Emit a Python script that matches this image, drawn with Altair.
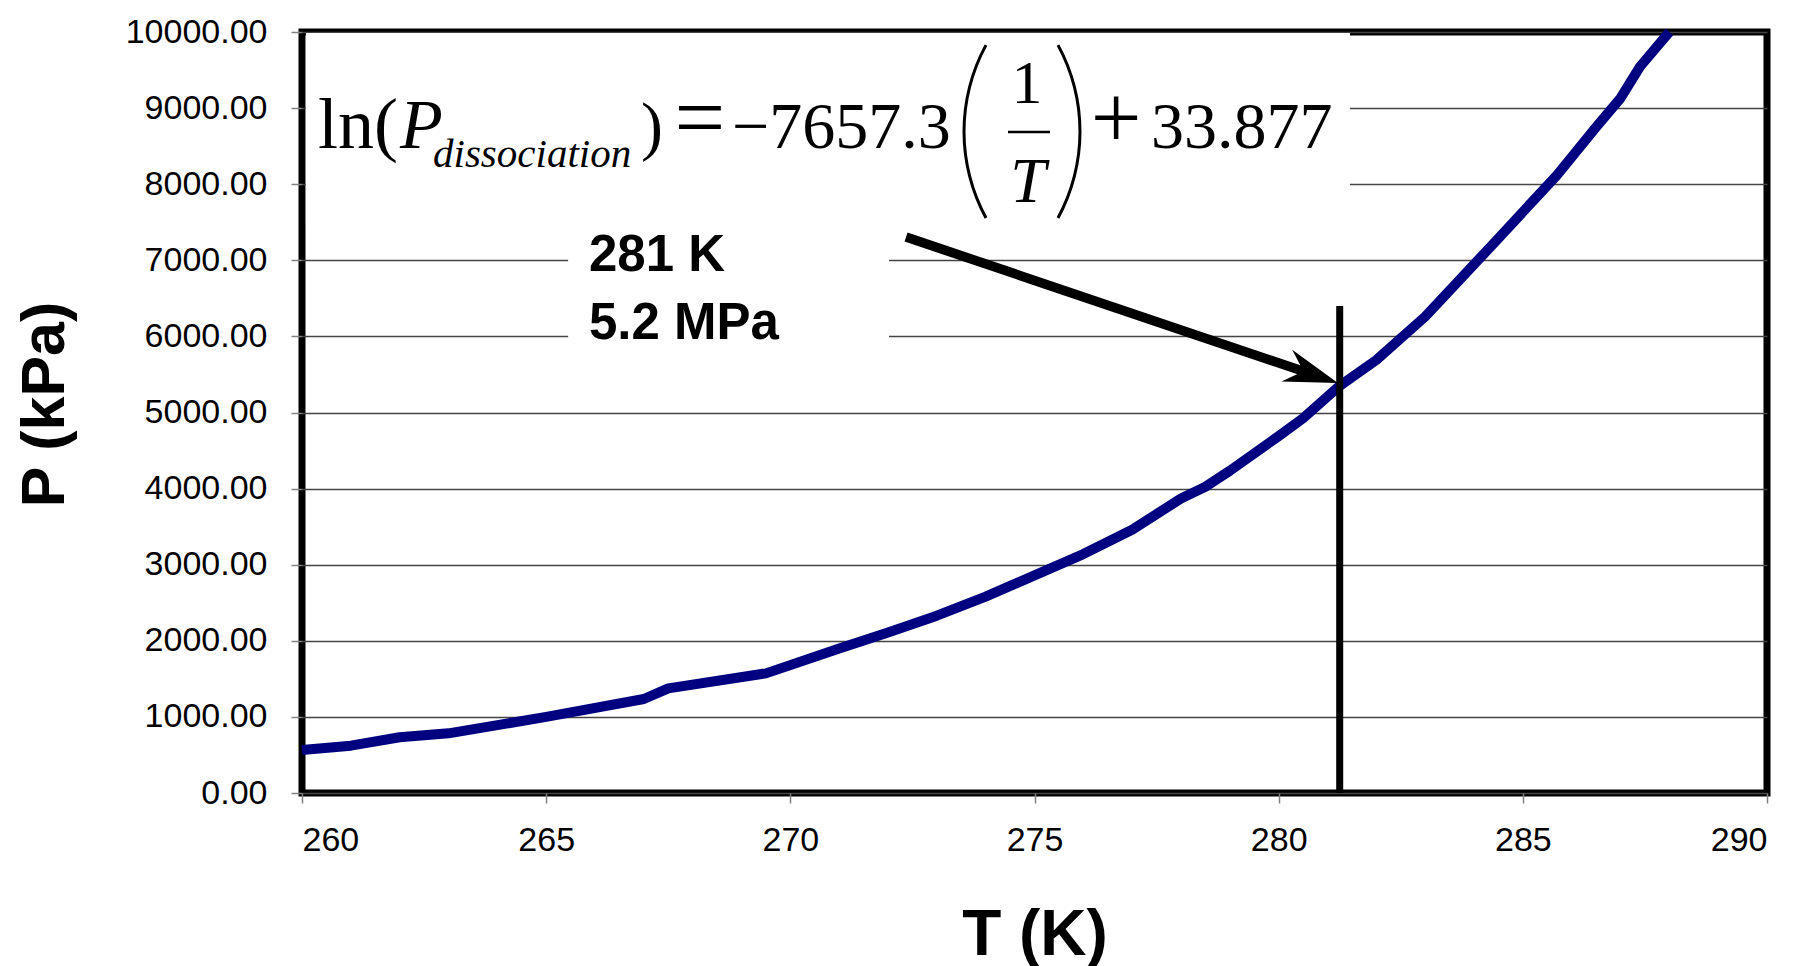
import altair as alt
import pandas as pd

# ---- data ----
T_vals = [260, 261, 262, 263, 265, 267, 267.5, 269.5, 271, 272, 273, 274, 275, 276, 277,
          278, 278.5, 279, 280, 280.5, 281.25, 282, 283, 284.4, 285.7, 286.5, 287, 287.4, 288]
P_vals = [565, 622, 732, 784, 1000, 1235, 1375, 1572, 1900, 2110, 2330, 2580, 2860, 3140, 3460,
          3870, 4025, 4235, 4690, 4925, 5350, 5690, 6260, 7220, 8120, 8750, 9130, 9545, 10000]

x_ticks = [260, 265, 270, 275, 280, 285, 290]
y_ticks = [0, 1000, 2000, 3000, 4000, 5000, 6000, 7000, 8000, 9000, 10000]

x_title = "T (K)"
y_title = "P (kPa)"

# annotation point (hydrate dissociation at 281 K)
mark_T = 281.25
mark_P_top = 6400
label_lines = ["281 K", "5.2 MPa"]
label_T = 265.877
label_P = [6859, 5966]

# arrow (data coordinates)
arrow_start = (272.37, 7306)
arrow_end = (280.537, 5535)
arrow_head = (280.691, 5502)
arrow_angle = 18.7

# white boxes behind the annotations (data coordinates)
box_T1 = [260.08, 265.45]
box_T2 = [281.46, 272.02]
box_P1 = [7464, 5690]
box_P2 = [9987, 7464]

# equation pieces: text, T, P, size, style, align
eq_text = ["ln(", "P", "dissociation", ")", "=", "\u22127657.3", "1", "T", "+", "33.877"]
eq_T = [260.328, 262.007, 262.683, 266.942, 268.15, 268.806, 274.846, 274.867, 276.669, 277.386]
eq_P = [8476, 8476, 8226, 8476, 8476, 8476, 9067, 7763, 8476, 8476]
eq_size = [72, 70, 41, 66, 90, 66, 62, 64, 90, 66]
eq_style = ["normal", "italic", "italic", "normal", "normal", "normal", "normal", "italic", "normal", "normal"]
eq_align = ["left", "left", "left", "left", "center", "left", "center", "center", "center", "left"]

frac_T = [274.457, 275.317]
frac_P = 8686
paren_T = [277.263, 272.225]   # arc centres of the big "(" and ")"
paren_P = 8692

# ---- chart ----
xs = alt.Scale(domain=[260, 290], nice=False, zero=False)
ys = alt.Scale(domain=[0, 10000], nice=False)

x_axis = alt.Axis(values=x_ticks, grid=False, domain=False, tickColor="#808080", tickWidth=1.5,
                  tickSize=10, labelFont="Liberation Sans", labelFontSize=34, labelColor="black",
                  labelPadding=20, titleFont="Liberation Sans", titleFontSize=64, titleFontWeight="bold",
                  titleColor="black", titleBaseline="alphabetic", titleY=161, zindex=0)
y_axis = alt.Axis(values=y_ticks, format=".2f", grid=True, gridColor="#444444", gridWidth=1.5,
                  domain=False, tickColor="#808080", tickWidth=1.5, tickSize=11,
                  labelFont="Liberation Sans", labelFontSize=34, labelColor="black", labelPadding=24,
                  titleFont="Liberation Sans", titleFontSize=61, titleFontWeight="bold", titleColor="black",
                  titleAngle=270, titleBaseline="alphabetic", titleAlign="center", titleX=-239, titleY=372,
                  zindex=0)


def X(field):
    return alt.X(field, type="quantitative", scale=xs, axis=x_axis, title=x_title)


def Y(field):
    return alt.Y(field, type="quantitative", scale=ys, axis=y_axis, title=y_title)


curve = pd.DataFrame({"T": T_vals, "P": P_vals})

boxes = pd.DataFrame({"T": box_T1, "T2": box_T2, "P": box_P1, "P2": box_P2})
box_layer = alt.Chart(boxes).mark_rect(fill="white", stroke=None).encode(
    x=X("T"), x2="T2", y=Y("P"), y2="P2")

line_layer = alt.Chart(curve).mark_line(color="#000080", strokeWidth=10, strokeJoin="round").encode(
    x=X("T"), y=Y("P"))

vrule = alt.Chart(pd.DataFrame({"T": [mark_T], "P": [0], "P2": [mark_P_top]})).mark_rule(
    color="black", strokeWidth=7).encode(x=X("T"), y=Y("P"), y2="P2")

arrow_line = alt.Chart(pd.DataFrame({"T": [arrow_start[0]], "P": [arrow_start[1]],
                                     "T2": [arrow_end[0]], "P2": [arrow_end[1]]})).mark_rule(
    color="black", strokeWidth=9.5, strokeCap="butt").encode(x=X("T"), y=Y("P"), x2="T2", y2="P2")

arrow_tip = alt.Chart(pd.DataFrame({"T": [arrow_head[0]], "P": [arrow_head[1]]})).mark_point(
    shape="M1,0L-1,-0.62L-0.35,0L-1,0.62Z", size=2916, angle=arrow_angle, filled=True,
    color="black", opacity=1, strokeWidth=0).encode(x=X("T"), y=Y("P"))

label_df = pd.DataFrame({"T": [label_T, label_T], "P": label_P, "label": label_lines})
label_layer = alt.Chart(label_df).mark_text(
    font="Liberation Sans", fontSize=51, fontWeight="bold", align="left", baseline="alphabetic",
    color="black").encode(x=X("T"), y=Y("P"), text="label:N")

eq_layers = []
for t, tt, pp, sz, st, al in zip(eq_text, eq_T, eq_P, eq_size, eq_style, eq_align):
    d = pd.DataFrame({"T": [tt], "P": [pp], "label": [t]})
    eq_layers.append(alt.Chart(d).mark_text(
        font="Liberation Serif", fontSize=sz, fontStyle=st, align=al, baseline="alphabetic",
        color="black").encode(x=X("T"), y=Y("P"), text="label:N"))

frac = alt.Chart(pd.DataFrame({"T": [frac_T[0]], "T2": [frac_T[1]], "P": [frac_P]})).mark_rule(
    color="black", strokeWidth=2.5).encode(x=X("T"), x2="T2", y=Y("P"))

lparen = alt.Chart(pd.DataFrame({"T": [paren_T[0]], "P": [paren_P]})).mark_arc(
    theta=4.214, theta2=5.210, radius=182.5, radius2=179.5, fill="black").encode(x=X("T"), y=Y("P"))
rparen = alt.Chart(pd.DataFrame({"T": [paren_T[1]], "P": [paren_P]})).mark_arc(
    theta=1.073, theta2=2.069, radius=182.5, radius2=179.5, fill="black").encode(x=X("T"), y=Y("P"))

chart = alt.layer(box_layer, line_layer, vrule, arrow_line, arrow_tip, label_layer,
                  *eq_layers, frac, lparen, rparen).properties(
    width=1465, height=761,
    padding={"left": 294, "top": 24, "right": 40, "bottom": 173},
    autosize="none",
    background="white",
).configure_view(stroke="black", strokeWidth=7)

chart.save("out.html", embed_options={"renderer": "svg", "actions": False})
